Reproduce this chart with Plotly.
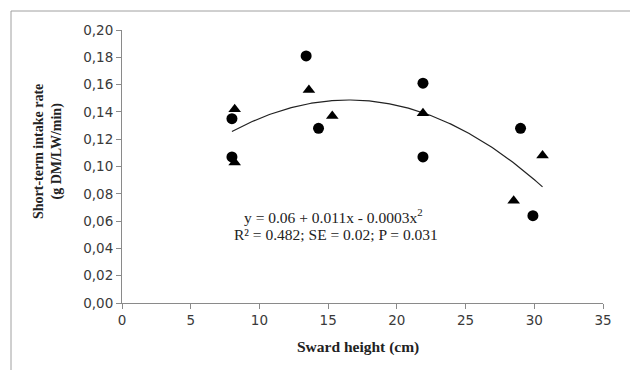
import plotly.graph_objects as go
import numpy as np

# ---- data ----
circle_x = [8.0, 8.0, 13.4, 14.3, 21.9, 21.9, 29.0, 29.9]
circle_y = [0.135, 0.107, 0.181, 0.128, 0.161, 0.107, 0.128, 0.064]

triangle_x = [8.2, 8.2, 13.6, 15.3, 21.9, 28.5, 30.6]
triangle_y = [0.142, 0.103, 0.156, 0.137, 0.139, 0.075, 0.108]

# quadratic trend line (as drawn), y = a + b x + c x^2
trend_a = 0.0616
trend_b = 0.01056
trend_c = -0.00032
trend_x_range = [8.0, 30.6]

x_tick_vals = [0, 5, 10, 15, 20, 25, 30, 35]
x_tick_text = ["0", "5", "10", "15", "20", "25", "30", "35"]
y_tick_vals = [0.0, 0.02, 0.04, 0.06, 0.08, 0.10, 0.12, 0.14, 0.16, 0.18, 0.20]
y_tick_text = ["0,00", "0,02", "0,04", "0,06", "0,08", "0,10", "0,12", "0,14", "0,16", "0,18", "0,20"]

equation_lines = ["y = 0.06 + 0.011x - 0.0003x<sup>2</sup>",
                  "R² = 0.482; SE = 0.02; P = 0.031"]

# ---- figure ----
W, H = 630, 370
L, R, T, B = 122, 27, 30, 67
pw, ph = W - L - R, H - T - B

def px_to_paper_x(px):
    return (px - L) / pw

def px_to_paper_y(py):
    return (H - B - py) / ph

tx = np.linspace(trend_x_range[0], trend_x_range[1], 200)
ty = trend_a + trend_b * tx + trend_c * tx ** 2

fig = go.Figure()
fig.add_trace(go.Scatter(x=tx, y=ty, mode="lines",
                         line=dict(color="#222222", width=1.2),
                         showlegend=False, hoverinfo="skip"))
fig.add_trace(go.Scatter(x=circle_x, y=circle_y, mode="markers",
                         marker=dict(symbol="circle", size=11, color="black"),
                         showlegend=False))
fig.add_trace(go.Scatter(x=triangle_x, y=triangle_y, mode="markers",
                         marker=dict(symbol="triangle-up", size=11, color="black"),
                         showlegend=False))

tick_font = dict(family="DejaVu Sans, Verdana, sans-serif", size=13.5, color="#3a3a3a")
ytitle_font = dict(family="Liberation Serif, Times New Roman, serif", size=14, color="#222222")
xtitle_font = dict(family="Liberation Serif, Times New Roman, serif", size=15.5, color="#222222")
eq_font = dict(family="Liberation Serif, Times New Roman, serif", size=15.5, color="#222222")

fig.update_xaxes(range=[0, 35], tickvals=x_tick_vals, ticktext=x_tick_text,
                 showgrid=False, zeroline=False, showline=True,
                 linecolor="#8a8a8a", linewidth=1,
                 ticks="outside", ticklen=5, tickcolor="#8a8a8a",
                 tickfont=tick_font)
fig.update_yaxes(range=[0, 0.2], tickvals=y_tick_vals, ticktext=y_tick_text,
                 showgrid=False, zeroline=False, showline=True,
                 linecolor="#8a8a8a", linewidth=1,
                 ticks="outside", ticklen=5, tickcolor="#8a8a8a",
                 tickfont=tick_font)

annotations = [
    dict(text="<b>Sward height (cm)</b>", x=px_to_paper_x(358), y=px_to_paper_y(347),
         xref="paper", yref="paper", showarrow=False, font=xtitle_font,
         xanchor="center", yanchor="middle"),
    dict(text="<b>Short-term intake rate<br>(g DM/LW/min)</b>",
         x=px_to_paper_x(48), y=px_to_paper_y(152),
         xref="paper", yref="paper", showarrow=False, textangle=-90,
         font=ytitle_font, xanchor="center", yanchor="middle"),
    dict(text=equation_lines[0], x=px_to_paper_x(333), y=px_to_paper_y(216),
         xref="paper", yref="paper", showarrow=False, font=eq_font,
         xanchor="center", yanchor="middle"),
    dict(text=equation_lines[1], x=px_to_paper_x(336), y=px_to_paper_y(234),
         xref="paper", yref="paper", showarrow=False, font=eq_font,
         xanchor="center", yanchor="middle"),
]

shapes = [
    dict(type="rect", xref="paper", yref="paper",
         x0=px_to_paper_x(11), x1=px_to_paper_x(660),
         y0=px_to_paper_y(400), y1=px_to_paper_y(11),
         line=dict(color="#a0a0a0", width=1), fillcolor="rgba(0,0,0,0)", layer="below"),
]

fig.update_layout(width=W, height=H,
                  margin=dict(l=L, r=R, t=T, b=B),
                  paper_bgcolor="white", plot_bgcolor="white",
                  annotations=annotations, shapes=shapes,
                  showlegend=False)

fig.write_html("out.html", config={"displayModeBar": False},
               post_script="document.body.style.margin='0';document.body.style.padding='0';")
